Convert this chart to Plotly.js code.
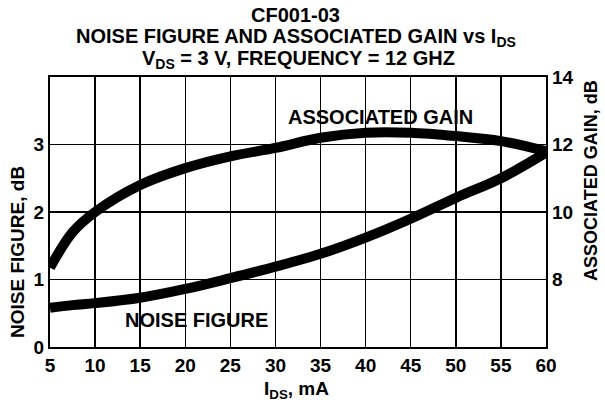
<!DOCTYPE html>
<html>
<head>
<meta charset="utf-8">
<script src="https://cdn.plot.ly/plotly-3.0.1.min.js"></script>
<style>html,body{margin:0;padding:0;background:#fff;}#chart{width:605px;height:404px;}</style>
</head>
<body>
<div id="chart"></div>
<script>
// Data
const idsMA = [5, 7.5, 10, 15, 20, 25, 30, 35, 40, 45, 50, 55, 60];
const noiseFigureDB = [0.58, 0.62, 0.65, 0.73, 0.86, 1.02, 1.19, 1.38, 1.62, 1.90, 2.21, 2.50, 2.88];
const associatedGainDB = [8.35, 9.4, 10.0, 10.8, 11.3, 11.65, 11.9, 12.2, 12.35, 12.35, 12.25, 12.1, 11.8];
const xTicks = [5, 10, 15, 20, 25, 30, 35, 40, 45, 50, 55, 60];
const nfTicks = [0, 1, 2, 3];
const gainTicks = [8, 10, 12, 14];

const FONT = '"Liberation Sans", Arial, Helvetica, sans-serif';
const TF = {family: FONT, size: 20, color: '#000'};
const AF = {family: FONT, size: 19, color: '#000'};

const traces = [
  {x: idsMA, y: noiseFigureDB, type: 'scatter', mode: 'lines', name: 'NOISE FIGURE',
   line: {color: '#000', width: 10, shape: 'spline', smoothing: 1}, yaxis: 'y'},
  {x: idsMA, y: associatedGainDB, type: 'scatter', mode: 'lines', name: 'ASSOCIATED GAIN',
   line: {color: '#000', width: 10, shape: 'spline', smoothing: 1}, yaxis: 'y2'}
];

function ann(text, x, y, font, extra) {
  return Object.assign({x: x, y: y, xref: 'paper', yref: 'paper', text: text, showarrow: false,
    font: font, xanchor: 'center', yanchor: 'middle'}, extra || {});
}

const layout = {
  width: 605, height: 404,
  margin: {l: 50, r: 59, t: 77, b: 57},
  paper_bgcolor: '#fff', plot_bgcolor: '#fff',
  showlegend: false,
  font: {family: FONT, color: '#000', size: 16},
  xaxis: {
    range: [5, 60], tickvals: xTicks, ticktext: xTicks.map(v => '<b>' + v + '</b>'),
    showgrid: true, gridcolor: '#000', gridwidth: 1.5,
    showline: true, linecolor: '#000', linewidth: 2, mirror: true,
    zeroline: false, ticks: '',
    tickfont: {family: FONT, size: 19, color: '#000'}
  },
  yaxis: {
    range: [0, 4], tickvals: nfTicks, ticktext: nfTicks.map(v => '<b>' + v + '</b>'),
    showgrid: true, gridcolor: '#000', gridwidth: 1.5,
    showline: true, linecolor: '#000', linewidth: 2, mirror: true,
    zeroline: false, ticks: '',
    tickfont: {family: FONT, size: 19, color: '#000'}
  },
  yaxis2: {
    range: [6, 14], tickvals: gainTicks, ticktext: gainTicks.map(v => '<b>' + v + '</b>'),
    overlaying: 'y', side: 'right', showgrid: false, zeroline: false,
    showline: false, ticks: '', ticklabelstandoff: 5,
    tickfont: {family: FONT, size: 19, color: '#000'}
  },
  annotations: [
    ann('<b>CF001-03</b>', 0.494, 1.2296, TF),
    ann('<b>NOISE FIGURE AND ASSOCIATED GAIN vs I<sub>DS</sub></b>', 0.496, 1.145, TF),
    ann('<b>V<sub>DS</sub> = 3 V, FREQUENCY = 12 GHZ</b>', 0.502, 1.065, TF),
    ann('<b>I<sub>DS</sub>, mA</b>', 0.496, -0.16, AF),
    ann('<b>NOISE FIGURE, dB</b>', -0.0645, 0.352, AF, {textangle: -90}),
    ann('<b>ASSOCIATED GAIN, dB</b>', 1.0907, 0.6185, {family: FONT, size: 18, color: '#000'}, {textangle: -90}),
    {x: 41.7, y: 3.41, xref: 'x', yref: 'y', text: '<b>ASSOCIATED GAIN</b>', showarrow: false,
     font: {family: FONT, size: 20, color: '#000'}, xanchor: 'center', yanchor: 'middle'},
    {x: 21.2, y: 0.4, xref: 'x', yref: 'y', text: '<b>NOISE FIGURE</b>', showarrow: false,
     font: {family: FONT, size: 20, color: '#000'}, xanchor: 'center', yanchor: 'middle'}
  ]
};

Plotly.newPlot('chart', traces, layout, {displayModeBar: false, staticPlot: true});
</script>
</body>
</html>
